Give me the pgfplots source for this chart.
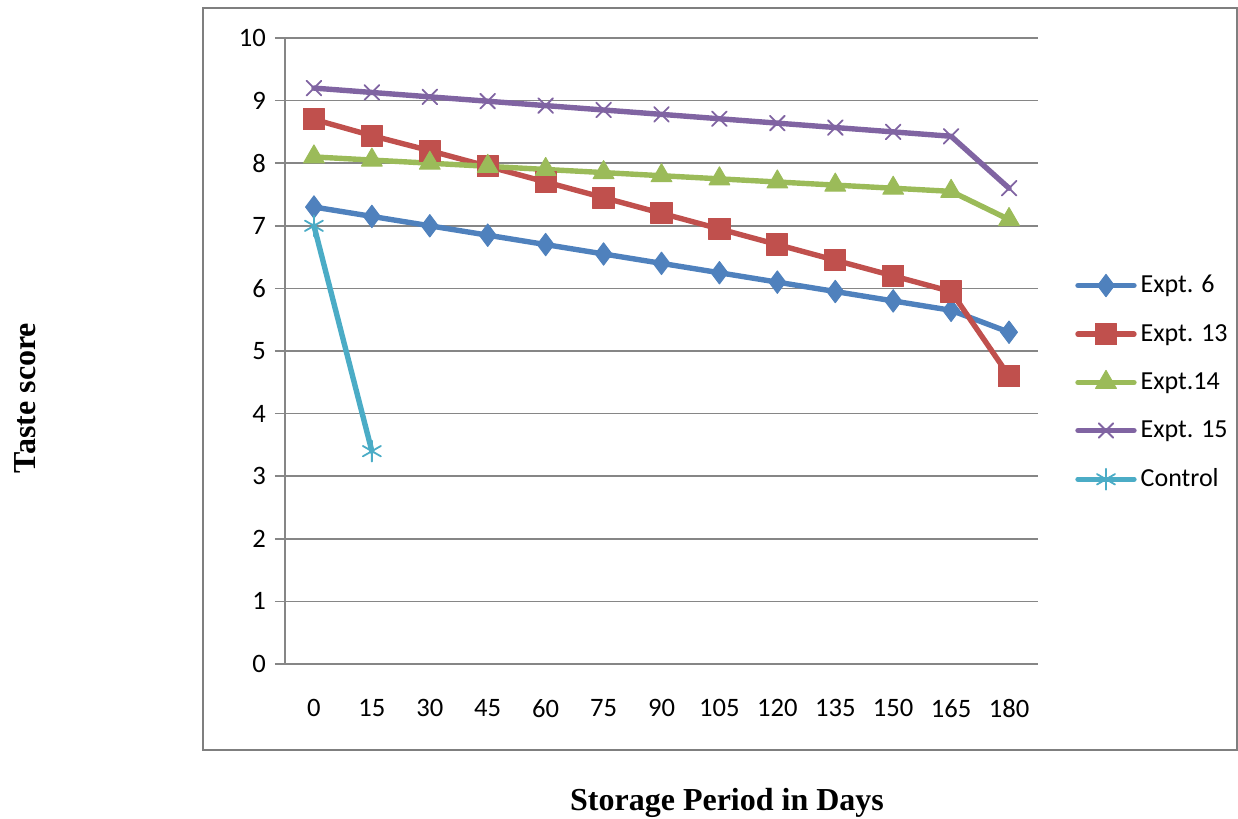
\documentclass[border=0pt]{standalone}
\usepackage{pgfplots}
\pgfplotsset{compat=1.18}
\usepackage{fontspec}
\setmainfont{Carlito}
\newfontfamily\timesf{Liberation Serif}
\definecolor{cblue}{HTML}{4F81BD}
\definecolor{cred}{HTML}{C0504D}
\definecolor{cgreen}{HTML}{9BBB59}
\definecolor{cpurple}{HTML}{8064A2}
\definecolor{caqua}{HTML}{4BACC6}
\definecolor{gridgray}{HTML}{868686}
\definecolor{framegray}{HTML}{7F7F7F}
\begin{document}
\begin{tikzpicture}
\useasboundingbox (-142.5pt,-77.5pt) rectangle (476.5pt,332pt);
\draw[framegray, line width=1pt] (-41pt,-43pt) rectangle (476pt,328pt);
\begin{axis}[
  scale only axis,
  width=376.5pt, height=313pt,
  xmin=-0.5, xmax=12.5, ymin=0, ymax=10,
  axis x line*=bottom, axis y line*=left,
  axis line style={gridgray, line width=0.8pt},
  every outer x axis line/.append style={-}, every outer y axis line/.append style={-},
  xtick={0,...,12},
  xticklabels={0,15,30,45,60,75,90,105,120,135,150,165,180},
  minor xtick={-0.5,0.5,...,12.5},
  ytick={0,...,10},
  tick align=outside,
  major tick length=5pt,
  minor tick length=4.5pt,
  x tick style={draw=none},
  minor x tick style={gridgray, line width=0.8pt},
  y tick style={gridgray, line width=0.8pt},
  ymajorgrids,
  major grid style={gridgray, line width=0.8pt},
  /pgf/number format/assume math mode=true,
  tick label style={font=\fontsize{13.3}{15}\selectfont},
  xticklabel style={yshift=-9pt},
  yticklabel style={xshift=-1pt},
  xlabel={\timesf\bfseries Storage Period in Days},
  ylabel={\timesf\bfseries Taste score},
  xlabel style={font=\fontsize{16}{18}\selectfont, at={(axis description cs:0.587,-0.222)}, anchor=center},
  ylabel style={font=\fontsize{16}{18}\selectfont, at={(axis description cs:-0.345,0.425)}, anchor=center, rotate=0},
  legend style={at={(axis description cs:1.049,0.628)}, anchor=north west, draw=none, fill=none,
    font=\fontsize{13}{15}\selectfont, row sep=10.2pt, inner sep=0pt,
    /tikz/every even column/.append style={column sep=1pt}},
  legend cell align=left,
  legend image code/.code={\draw[mark repeat=2,mark phase=2] plot coordinates {(0pt,0pt) (14pt,0pt) (28pt,0pt)};},
  every axis plot/.append style={line width=2.7pt, line join=round, line cap=round},
]
\addplot[cblue, mark=diamond*, mark size=5.6pt, mark options={solid, line width=0.5pt, fill=cblue}] coordinates {
(0,7.3) (1,7.15) (2,7.0) (3,6.85) (4,6.7) (5,6.55) (6,6.4) (7,6.25) (8,6.1) (9,5.95) (10,5.8) (11,5.65) (12,5.3)};
\addlegendentry{Expt. 6}
\addplot[cred, mark=square*, mark size=5.3pt, mark options={solid, line width=0.5pt, fill=cred}] coordinates {
(0,8.7) (1,8.44) (2,8.2) (3,7.95) (4,7.7) (5,7.45) (6,7.2) (7,6.95) (8,6.7) (9,6.45) (10,6.2) (11,5.95) (12,4.6)};
\addlegendentry{Expt. 13}
\addplot[cgreen, mark=triangle*, mark size=6pt, mark options={solid, line width=0.5pt, fill=cgreen}] coordinates {
(0,8.1) (1,8.05) (2,8.0) (3,7.95) (4,7.9) (5,7.85) (6,7.8) (7,7.75) (8,7.7) (9,7.65) (10,7.6) (11,7.55) (12,7.1)};
\addlegendentry{Expt.14}
\addplot[cpurple, mark=x, mark size=5.2pt, mark options={solid, line width=0.9pt}] coordinates {
(0,9.2) (1,9.13) (2,9.06) (3,8.99) (4,8.92) (5,8.85) (6,8.78) (7,8.71) (8,8.64) (9,8.57) (10,8.5) (11,8.43) (12,7.6)};
\addlegendentry{Expt. 15}
\addplot[caqua, mark=asterisk, mark size=5.2pt, mark options={solid, line width=0.9pt}] coordinates {
(0,7.0) (1,3.4)};
\addlegendentry{Control}
\end{axis}
\end{tikzpicture}
\end{document}
